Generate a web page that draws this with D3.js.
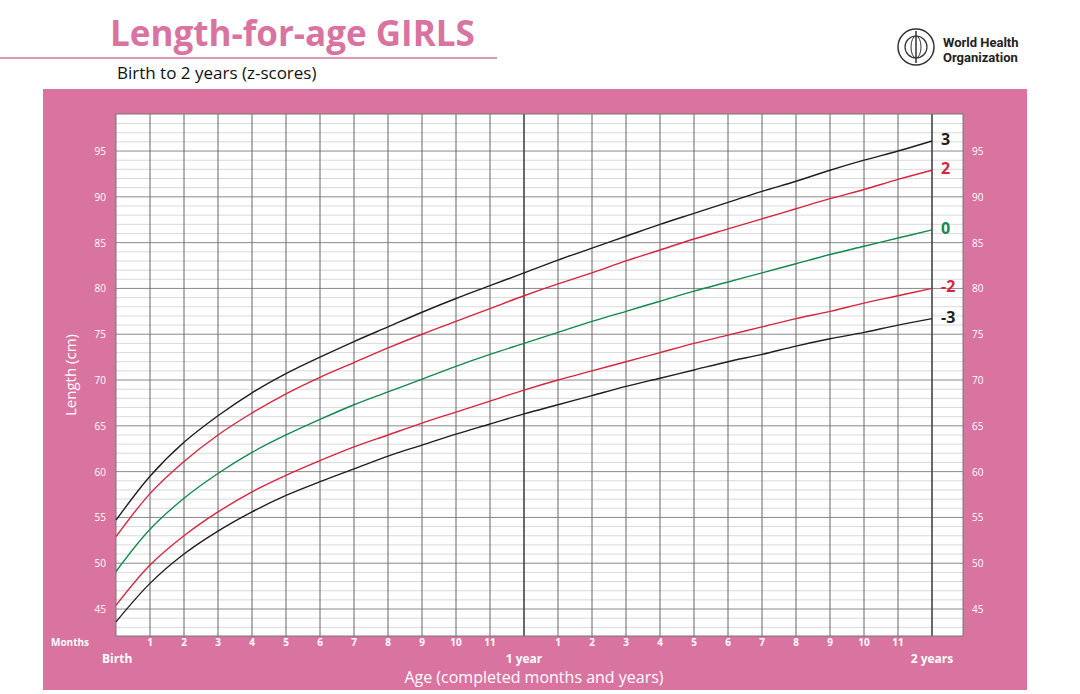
<!DOCTYPE html>
<html><head><meta charset="utf-8">
<script src="https://cdn.jsdelivr.net/npm/d3@7/dist/d3.min.js"></script>
<style>body{margin:0;background:#fff;font-family:"Open Sans",sans-serif}</style>
</head><body><svg id="c" width="1080" height="694"></svg>
<script>
const months = d3.range(0, 25);
const sdNeg3 = [43.6,47.8,51.0,53.5,55.6,57.4,58.9,60.3,61.7,62.9,64.1,65.2,66.3,67.3,68.3,69.3,70.2,71.1,72.0,72.8,73.7,74.5,75.2,76.0,76.7];
const sdNeg2 = [45.4,49.8,53.0,55.6,57.8,59.6,61.2,62.7,64.0,65.3,66.5,67.7,68.9,70.0,71.0,72.0,73.0,74.0,74.9,75.8,76.7,77.5,78.4,79.2,80.0];
const sd0 = [49.1,53.7,57.1,59.8,62.1,64.0,65.7,67.3,68.7,70.1,71.5,72.8,74.0,75.2,76.4,77.5,78.6,79.7,80.7,81.7,82.7,83.7,84.6,85.5,86.4];
const sd2 = [52.9,57.6,61.1,64.0,66.4,68.5,70.3,71.9,73.5,75.0,76.4,77.8,79.2,80.5,81.7,83.0,84.2,85.4,86.5,87.6,88.7,89.8,90.8,91.9,92.9];
const sd3 = [54.7,59.5,63.2,66.1,68.6,70.7,72.5,74.2,75.8,77.4,78.9,80.3,81.7,83.1,84.4,85.7,87.0,88.2,89.4,90.6,91.7,92.9,94.0,95.0,96.1];
const seriesNames = ["3","2","0","-2","-3"];
const monthLabels = ["","1","2","3","4","5","6","7","8","9","10","11","","1","2","3","4","5","6","7","8","9","10","11",""];
const yTicks = [45,50,55,60,65,70,75,80,85,90,95];

const pink="#d9739f", black="#1f1f1f", red="#d6263e", green="#128a4c";
const svg=d3.select("#c");
svg.append("text").attr("x",110).attr("y",46).attr("fill",pink).attr("font-size",35).attr("font-weight",700).text("Length-for-age GIRLS");
svg.append("line").attr("x1",0).attr("x2",497).attr("y1",58).attr("y2",58).attr("stroke",pink).attr("stroke-width",1.5);
svg.append("text").attr("x",117).attr("y",79).attr("font-size",17).attr("fill","#111").text("Birth to 2 years (z-scores)");
const lg=svg.append("g").attr("transform","translate(916,47)");
lg.append("circle").attr("r",18).attr("fill","none").attr("stroke","#333").attr("stroke-width",1.5);
lg.append("circle").attr("r",11).attr("fill","none").attr("stroke","#333").attr("stroke-width",1.2);
lg.append("line").attr("y1",-16).attr("y2",16).attr("stroke","#333").attr("stroke-width",1.5);
lg.append("ellipse").attr("rx",5).attr("ry",11).attr("fill","none").attr("stroke","#333");
svg.append("text").attr("x",943).attr("y",47).attr("font-size",13).attr("font-weight",700).attr("font-family","Roboto").attr("fill","#222").text("World Health");
svg.append("text").attr("x",943).attr("y",62).attr("font-size",13).attr("font-weight",700).attr("font-family","Roboto").attr("fill","#222").text("Organization");
svg.append("rect").attr("x",43).attr("y",89).attr("width",984).attr("height",601).attr("fill",pink);
const x=d3.scaleLinear().domain([0,24]).range([116,932]);
const y=d3.scaleLinear().domain([42,99]).range([636.5,114.4]);
svg.append("rect").attr("x",116).attr("y",114).attr("width",847).attr("height",522).attr("fill","#fff");
const g=svg.append("g");
d3.range(43,99).forEach(v=>{
  g.append("line").attr("x1",116).attr("x2",963).attr("y1",y(v)).attr("y2",y(v))
   .attr("stroke",v%5===0?"#8a8a8a":"#c8c8c8").attr("stroke-width",v%5===0?1:0.7);
});
months.forEach(m=>{ if(m===0) return;
  g.append("line").attr("x1",x(m)).attr("x2",x(m)).attr("y1",114).attr("y2",636)
   .attr("stroke",(m===12||m===24)?"#444":"#666").attr("stroke-width",(m===12||m===24)?1.6:1);
});
g.append("rect").attr("x",116).attr("y",114).attr("width",847).attr("height",522).attr("fill","none").attr("stroke","#777");
const data=[sd3,sd2,sd0,sdNeg2,sdNeg3], cols=[black,red,green,red,black];
const line=d3.line().x((d,i)=>x(months[i])).y(d=>y(d)).curve(d3.curveCatmullRom);
data.forEach((s,i)=>{
  svg.append("path").attr("d",line(s)).attr("fill","none").attr("stroke",cols[i]).attr("stroke-width",1.4);
  svg.append("text").attr("x",x(24)+9).attr("y",y(s[24])+4).attr("font-size",16).attr("font-weight",700)
    .attr("fill",cols[i]).text(seriesNames[i]);
});
yTicks.forEach(v=>{
  svg.append("text").attr("x",106).attr("y",y(v)+4).attr("text-anchor","end").attr("font-size",10).attr("fill","#fff").text(v);
  svg.append("text").attr("x",972).attr("y",y(v)+4).attr("font-size",10).attr("fill","#fff").text(v);
});
svg.append("text").attr("transform","translate(76,375) rotate(-90)").attr("text-anchor","middle").attr("font-size",15).attr("fill","#fff").text("Length (cm)");
months.forEach(m=>{ if(!monthLabels[m]) return;
  svg.append("text").attr("x",x(m)).attr("y",646).attr("text-anchor","middle").attr("font-size",10).attr("font-weight",700).attr("fill","#fff").text(monthLabels[m]);
});
svg.append("text").attr("x",51).attr("y",646).attr("font-size",10).attr("font-weight",700).attr("fill","#fff").text("Months");
svg.append("text").attr("x",102).attr("y",663).attr("font-size",12).attr("font-weight",700).attr("fill","#fff").text("Birth");
svg.append("text").attr("x",x(12)).attr("y",663).attr("text-anchor","middle").attr("font-size",12).attr("font-weight",700).attr("fill","#fff").text("1 year");
svg.append("text").attr("x",x(24)).attr("y",663).attr("text-anchor","middle").attr("font-size",12).attr("font-weight",700).attr("fill","#fff").text("2 years");
svg.append("text").attr("x",534).attr("y",683).attr("text-anchor","middle").attr("font-size",16).attr("fill","#fff").text("Age (completed months and years)");
</script></body></html>
